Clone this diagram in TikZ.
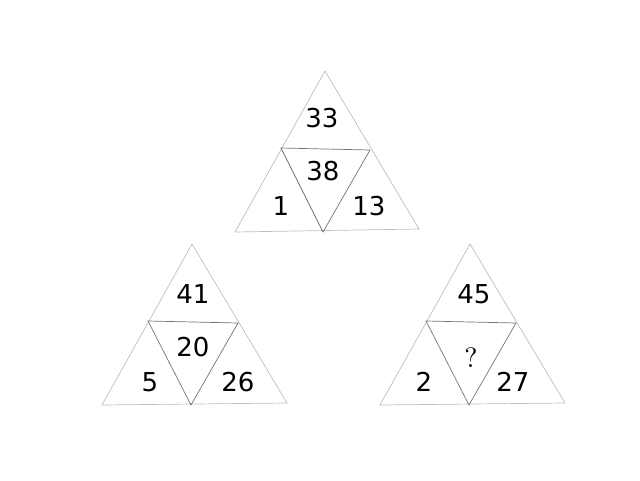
\documentclass[tikz,border=0pt]{standalone}
\usepackage{fontspec}
\newfontfamily\numfont{DejaVu Sans}
\newfontfamily\qfont{lmroman10-regular.otf}
\usepackage{xcolor}
\definecolor{outergray}{gray}{0.75}
\definecolor{innergray}{gray}{0.45}

\begin{document}
\begin{tikzpicture}[x=1pt,y=-1pt,
  outer/.style={draw=outergray, line width=0.7pt, line join=miter},
  inner/.style={draw=innergray, line width=0.7pt, line join=miter},
  num/.style={inner sep=0pt, font=\numfont\fontsize{26}{30}\selectfont}]
\useasboundingbox (0,0) rectangle (640,480);
% top triangle
\draw[outer] (325,71) -- (235,232) -- (419,229) -- cycle;
\draw[inner] (281,148) -- (370,150) -- (323,232) -- cycle;
\path (322,118) node[num] (t1) {33};
\path (323,171) node[num] (t2) {38};
\path (281,206) node[num] (t3) {1};
\path (369,206) node[num] (t4) {13};
% lower left triangle
\draw[outer] (192,244) -- (102,405) -- (287,403) -- cycle;
\draw[inner] (148,321) -- (238,323) -- (191,405) -- cycle;
\path (193,294) node[num] (l1) {41};
\path (193,347) node[num] (l2) {20};
\path (150,382) node[num] (l3) {5};
\path (238,382) node[num] (l4) {26};
% lower right triangle
\draw[outer] (470,244) -- (380,405) -- (565,403) -- cycle;
\draw[inner] (426,321) -- (516,323) -- (469,405) -- cycle;
\path (474,294) node[num] (r1) {45};
\path (471,358) node[inner sep=0pt, font=\qfont\fontsize{28}{32}\selectfont] (r2) {?};
\path (424,382) node[num] (r3) {2};
\path (513,382) node[num] (r4) {27};
\end{tikzpicture}
\end{document}
